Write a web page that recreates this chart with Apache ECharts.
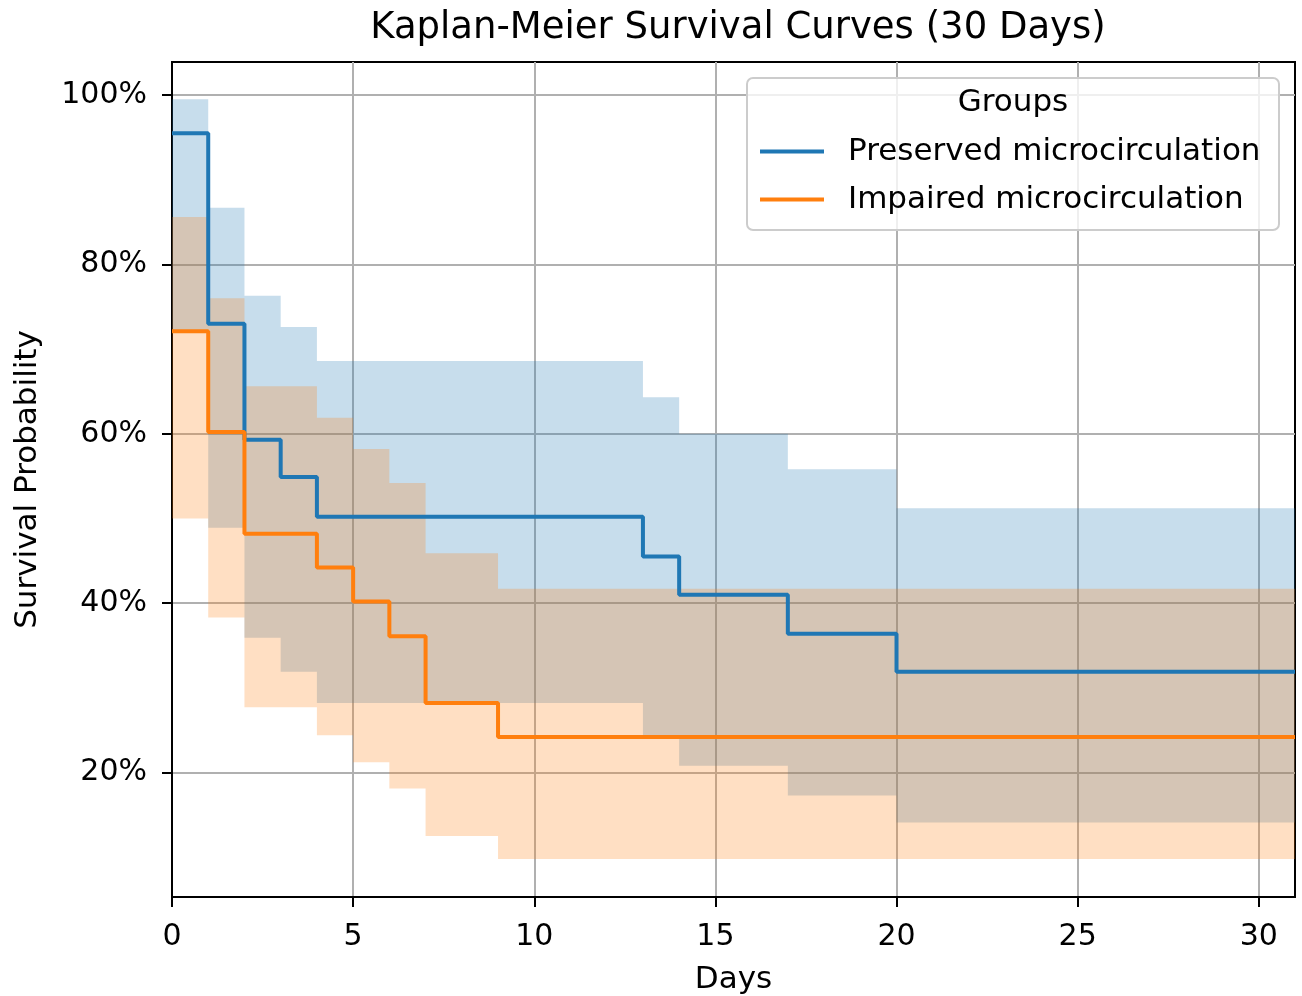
<!DOCTYPE html>
<html>
<head>
<meta charset="utf-8">
<script src="https://cdn.jsdelivr.net/npm/echarts@6/dist/echarts.min.js"></script>
<style>
  html, body { margin: 0; padding: 0; background: #fff; }
  #chart { width: 1302px; height: 996px; }
</style>
</head>
<body>
<div id="chart"></div>
<script>
// Kaplan-Meier survival (in %)
var preservedDays = [0, 1, 2, 3, 4, 13, 14, 17, 20, 31];
var preservedSurv = [95.5, 73.0, 59.3, 54.9, 50.2, 45.5, 41.0, 36.4, 31.9, 31.9];
var preservedUpper = [99.5, 86.7, 76.3, 72.6, 68.6, 64.3, 60.0, 55.8, 51.2, 51.2];
var preservedLower = [71.9, 48.9, 35.9, 31.9, 28.2, 24.3, 20.8, 17.3, 14.1, 14.1];

var impairedDays = [0, 1, 2, 4, 5, 6, 7, 9, 31];
var impairedSurv = [72.1, 60.2, 48.2, 44.2, 40.2, 36.1, 28.2, 24.2, 24.2];
var impairedUpper = [85.6, 76.0, 65.6, 61.9, 58.2, 54.2, 45.9, 41.7, 41.7];
var impairedLower = [50.0, 38.3, 27.7, 24.4, 21.2, 18.1, 12.5, 9.8, 9.8];

var xTicks = [0, 5, 10, 15, 20, 25, 30];
var yTicks = [20, 40, 60, 80, 100];

var groupNames = ['Preserved microcirculation', 'Impaired microcirculation'];
var blue = '#1f77b4';
var orange = '#ff7f0e';
var font = 'DejaVu Sans';

function pairs(xs, ys) {
    return xs.map(function (x, i) { return [x, ys[i]]; });
}

// confidence band drawn as one step-shaped polygon (custom series)
function band(xs, hi, lo, color) {
    var rows = xs.map(function (x, i) { return [x, lo[i], hi[i]]; });
    return {
        type: 'custom', silent: true,
        encode: { x: 0, y: [1, 2] },
        data: rows,
        renderItem: function (params, api) {
            if (params.dataIndex !== 0) return;
            var pts = [], i;
            for (i = 0; i < rows.length - 1; i++) {
                pts.push(api.coord([rows[i][0], rows[i][2]]));
                pts.push(api.coord([rows[i + 1][0], rows[i][2]]));
            }
            for (i = rows.length - 2; i >= 0; i--) {
                pts.push(api.coord([rows[i + 1][0], rows[i][1]]));
                pts.push(api.coord([rows[i][0], rows[i][1]]));
            }
            return {
                type: 'polygon',
                shape: { points: pts },
                style: { fill: color, opacity: 0.25 }
            };
        }
    };
}

var chart = echarts.init(document.getElementById('chart'));

var series = [
    band(preservedDays, preservedUpper, preservedLower, blue),
    band(impairedDays, impairedUpper, impairedLower, orange),
    {
        name: groupNames[0], type: 'line', step: 'end', symbol: 'none',
        color: blue, lineStyle: { color: blue, width: 4 },
        data: pairs(preservedDays, preservedSurv)
    }, {
        name: groupNames[1], type: 'line', step: 'end', symbol: 'none',
        color: orange, lineStyle: { color: orange, width: 4 },
        data: pairs(impairedDays, impairedSurv)
    }
];

chart.setOption({
    animation: false,
    backgroundColor: '#fff',
    textStyle: { fontFamily: font },
    title: {
        text: 'Kaplan-Meier Survival Curves (30 Days)',
        left: 733, textAlign: 'center', top: 5,
        textStyle: { fontFamily: font, fontSize: 37, fontWeight: 'normal', color: '#000' }
    },
    grid: {
        left: 172, right: 7, top: 62, bottom: 99,
        outerBoundsMode: 'none',
        show: true, borderColor: '#000', borderWidth: 2
    },
    xAxis: {
        type: 'value', min: 0, max: 31,
        name: 'Days', nameLocation: 'middle', nameGap: 67,
        nameTextStyle: { fontFamily: font, fontSize: 31, color: '#000' },
        axisLine: { lineStyle: { color: '#000', width: 2 } },
        axisTick: { show: true, length: 10, lineStyle: { color: '#000', width: 2 }, customValues: xTicks },
        axisLabel: { fontFamily: font, fontSize: 30, color: '#000', margin: 25, customValues: xTicks },
        splitLine: { show: true, lineStyle: { color: '#b0b0b0', width: 2 } }
    },
    yAxis: {
        type: 'value', min: 5.3, max: 103.9,
        name: 'Survival Probability', nameLocation: 'middle', nameGap: 129,
        nameTextStyle: { fontFamily: font, fontSize: 31, color: '#000' },
        axisLine: { show: true, lineStyle: { color: '#000', width: 2 } },
        axisTick: { show: true, length: 10, lineStyle: { color: '#000', width: 2 }, customValues: yTicks },
        axisLabel: { fontFamily: font, fontSize: 30, color: '#000', margin: 25, formatter: '{value}%', customValues: yTicks },
        splitLine: { show: true, lineStyle: { color: '#b0b0b0', width: 2 } }
    },
    legend: {
        data: groupNames,
        orient: 'vertical',
        left: 758, top: 136, padding: 0,
        itemWidth: 64, itemHeight: 30, itemGap: 17,
        itemStyle: { opacity: 0 },
        lineStyle: { width: 4 },
        textStyle: { fontFamily: font, fontSize: 31, color: '#000', padding: [0, 0, 0, 19] },
        z: 6
    },
    graphic: [{
        type: 'rect', z: 3,
        shape: { x: 747, y: 78, width: 532, height: 152, r: 6 },
        style: { fill: 'rgba(255,255,255,0.8)', stroke: '#cccccc', lineWidth: 2 }
    }, {
        type: 'text', z: 5,
        style: {
            x: 1013, y: 103, text: 'Groups', align: 'center', verticalAlign: 'middle',
            fontFamily: font, fontSize: 31, fill: '#000'
        }
    }],
    series: series
});

window.addEventListener('resize', function () { chart.resize(); });
</script>
</body>
</html>
